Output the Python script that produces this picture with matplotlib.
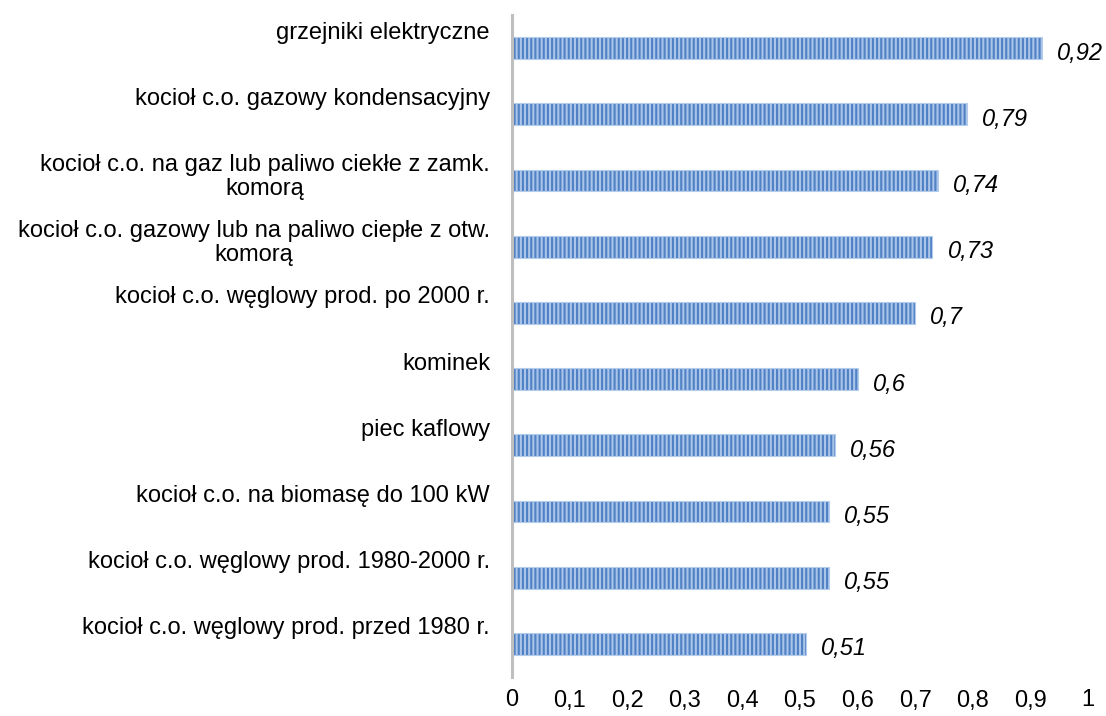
import matplotlib.pyplot as plt
from matplotlib.ticker import FuncFormatter

# data
categories = [
    "grzejniki elektryczne",
    "kocioł c.o. gazowy kondensacyjny",
    "kocioł c.o. na gaz lub paliwo ciekłe z zamk.\nkomorą",
    "kocioł c.o. gazowy lub na paliwo ciepłe z otw.\nkomorą",
    "kocioł c.o. węglowy prod. po 2000 r.",
    "kominek",
    "piec kaflowy",
    "kocioł c.o. na biomasę do 100 kW",
    "kocioł c.o. węglowy prod. 1980-2000 r.",
    "kocioł c.o. węglowy prod. przed 1980 r.",
]
values = [0.92, 0.79, 0.74, 0.73, 0.7, 0.6, 0.56, 0.55, 0.55, 0.51]
x_ticks = [0, 0.1, 0.2, 0.3, 0.4, 0.5, 0.6, 0.7, 0.8, 0.9, 1]

plt.rcParams['font.family'] = ['Liberation Sans', 'DejaVu Sans']
plt.rcParams['hatch.linewidth'] = 1.5

W, H = 1106, 716
fig = plt.figure(figsize=(W / 100, H / 100), dpi=100)
ax = fig.add_axes([512 / W, 1 - 677 / H, 576 / W, 662 / H])

pos = list(range(len(categories)))
# striped bars: light fill with dark vertical hatch
ax.barh(pos, values, height=0.33, color='#AAC5E9', edgecolor='#4F81C4',
        linewidth=0, hatch='||||')
ax.barh(pos, values, height=0.33, fill=False, edgecolor='#B3CCEC', linewidth=0.8)

ax.set_xlim(0, 1)
ax.set_ylim(len(categories) - 0.5, -0.5)
ax.set_xticks(x_ticks)
ax.xaxis.set_major_formatter(FuncFormatter(lambda v, p: f"{v:g}".replace('.', ',')))
ax.tick_params(axis='x', length=0, pad=9, labelsize=17, colors='black')
ax.set_yticks([])

for s in ['top', 'right', 'bottom']:
    ax.spines[s].set_visible(False)
ax.spines['left'].set_color('#BFBFBF')
ax.spines['left'].set_linewidth(2.2)

# category labels sit above each bar, right-aligned
for i, name in enumerate(categories):
    ax.text(-22 / 576, i - 0.40, name, transform=ax.get_yaxis_transform(),
            ha='right', va='top', multialignment='center', fontsize=17,
            linespacing=1.12)

# value labels in italics
for i, v in enumerate(values):
    ax.annotate(f"{v:g}".replace('.', ','), (v, i), xytext=(15, -5),
                textcoords='offset pixels', ha='left', va='center',
                fontsize=17, fontstyle='italic')

fig.savefig('out.png', dpi=100)
